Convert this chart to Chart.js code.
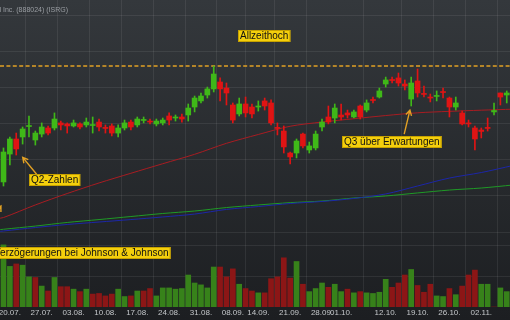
<!DOCTYPE html>
<html>
<head>
<meta charset="utf-8">
<script src="https://cdn.jsdelivr.net/npm/chart.js@4.4.0/dist/chart.umd.min.js"></script>
<style>
html, body { margin: 0; padding: 0; background: #26292d; }
canvas { display: block; }
</style>
</head>
<body>
<canvas id="isrg_chart" width="510" height="320" style="width:510px;height:320px"></canvas>
<script>
const title_text = 'Intuitive Surgical Inc. (888024) (ISRG)';

// daily candles, index 0 = 17.07.
const open_p = [684.6, 703.9, 714.3, 715.7, 722.9, 713.6, 717.7, 721.9, 721.9, 725.4,
    724.7, 723.3, 724.7, 724.0, 723.6, 726.0, 722.2, 723.3, 718.4, 721.9,
    726.0, 724.0, 727.1, 726.7, 724.7, 725.4, 730.2, 728.8, 729.5, 730.9,
    736.4, 740.6, 744.7, 748.9, 753.7, 749.5, 737.8, 731.6, 738.5, 736.4,
    736.4, 740.6, 739.2, 722.2, 719.8, 704.6, 704.6, 717.7, 706.7, 708.1,
    722.6, 729.5, 728.8, 730.9, 732.3, 729.5, 737.1, 734.3, 741.6, 743.3,
    752.3, 755.4, 756.5, 752.3, 741.9, 754.4, 745.7, 743.3, 743.7, 747.1,
    742.6, 736.4, 732.3, 725.4, 721.9, 720.5, 722.2, 733.0, 746.1, 744.7];
const high_p = [708.1, 715.7, 718.4, 722.6, 730.2, 719.8, 725.4, 723.3, 732.3, 726.7,
    725.4, 727.4, 725.4, 728.8, 729.5, 728.1, 724.0, 724.7, 724.0, 727.4,
    727.4, 729.5, 729.5, 728.1, 728.1, 728.8, 732.3, 730.9, 731.6, 738.5,
    744.0, 746.1, 750.2, 764.7, 756.5, 753.0, 739.2, 742.6, 743.3, 738.5,
    740.6, 742.6, 741.3, 725.4, 723.3, 705.3, 714.3, 718.4, 712.2, 719.8,
    728.1, 737.1, 738.5, 738.5, 734.3, 734.3, 737.8, 741.3, 743.3, 749.5,
    757.1, 757.1, 759.9, 755.1, 757.1, 762.7, 750.9, 745.4, 747.5, 749.5,
    743.3, 743.3, 733.6, 727.4, 723.3, 721.9, 728.8, 739.2, 746.1, 747.5];
const low_p = [681.8, 696.3, 703.2, 710.8, 715.7, 710.1, 715.7, 717.1, 720.5, 720.5,
    718.4, 722.6, 721.2, 722.6, 718.4, 719.8, 718.4, 716.4, 715.7, 720.5,
    720.5, 722.6, 725.4, 724.7, 723.3, 724.0, 724.0, 726.7, 726.0, 726.7,
    733.0, 739.2, 742.6, 746.8, 740.6, 737.8, 725.4, 730.2, 729.5, 728.8,
    733.6, 734.3, 724.0, 717.1, 704.6, 697.0, 701.2, 708.1, 704.6, 706.7,
    719.8, 724.7, 725.4, 727.4, 728.8, 728.8, 728.1, 733.0, 739.2, 742.6,
    750.2, 753.0, 750.9, 748.2, 737.1, 743.3, 743.3, 739.9, 740.6, 742.6,
    729.5, 734.3, 724.0, 722.6, 706.7, 715.0, 719.8, 730.9, 737.8, 739.2];
const close_p = [705.3, 714.3, 707.4, 721.2, 723.6, 718.4, 722.6, 718.4, 728.1, 724.0,
    723.3, 725.4, 722.6, 726.0, 724.3, 722.6, 721.6, 718.4, 721.9, 725.4,
    722.6, 728.1, 727.8, 726.0, 726.7, 727.4, 727.4, 729.5, 728.1, 735.7,
    742.6, 744.0, 748.9, 759.2, 748.9, 746.1, 727.4, 738.5, 732.3, 731.6,
    737.1, 737.1, 725.4, 721.6, 708.8, 701.9, 712.9, 709.5, 709.5, 717.7,
    726.0, 726.0, 735.7, 729.5, 730.9, 733.0, 729.5, 739.2, 740.9, 747.5,
    755.1, 754.7, 753.0, 750.9, 753.0, 746.1, 745.1, 742.6, 744.4, 746.4,
    736.4, 739.2, 724.7, 724.7, 714.3, 719.5, 721.6, 734.0, 743.3, 746.1];

// volume in million shares, 1 = up day, 0 = down day
const volume_m = [1.01, 0.66, 0.70, 0.68, 0.49, 0.48, 0.34, 0.26, 0.48, 0.33,
    0.33, 0.29, 0.25, 0.29, 0.21, 0.22, 0.18, 0.21, 0.29, 0.17,
    0.18, 0.26, 0.26, 0.30, 0.18, 0.31, 0.31, 0.29, 0.30, 0.52,
    0.39, 0.36, 0.31, 0.65, 0.65, 0.49, 0.62, 0.37, 0.30, 0.26,
    0.23, 0.23, 0.46, 0.49, 0.80, 0.47, 0.74, 0.37, 0.25, 0.30,
    0.39, 0.32, 0.37, 0.25, 0.29, 0.23, 0.25, 0.23, 0.22, 0.24,
    0.45, 0.32, 0.39, 0.52, 0.61, 0.35, 0.24, 0.37, 0.18, 0.17,
    0.30, 0.20, 0.34, 0.52, 0.60, 0.37, 0.37, 0, 0.31, 0.25];
const volume_up = [1, 1, 0, 1, 1, 0, 1, 0, 1, 0,
    0, 1, 0, 1, 0, 0, 0, 0, 1, 1,
    0, 1, 0, 0, 1, 1, 1, 1, 1, 1,
    1, 1, 1, 1, 0, 0, 0, 1, 0, 0,
    1, 0, 0, 0, 0, 0, 1, 0, 1, 1,
    1, 0, 1, 1, 0, 1, 0, 1, 1, 1,
    1, 0, 0, 0, 1, 0, 0, 0, 1, 1,
    0, 1, 0, 0, 0, 1, 1, 0, 1, 1];

// moving averages, read every 5 days
const ma_idx = [-1, 0, 5, 10, 15, 20, 25, 30, 35, 40, 45, 50, 55, 60, 65, 70, 75, 80];
const ma_red = [659.3, 660.0, 668.7, 676.6, 683.9, 690.6, 697.2, 703.7, 711.3, 717.4,
    723.1, 726.0, 728.3, 730.5, 732.4, 733.4, 734.2, 734.9];
const ma_blue = [650.3, 650.7, 653.1, 655.2, 656.9, 658.6, 660.4, 662.4, 665.6, 667.6,
    669.7, 671.1, 673.2, 676.3, 681.8, 687.3, 691.1, 696.0];
const ma_green = [651.4, 651.9, 654.1, 656.6, 658.6, 660.7, 662.8, 664.5, 666.9, 668.7,
    670.3, 671.4, 673.5, 674.9, 677.0, 679.0, 680.4, 682.5];

const tick_idx = [1, 6, 11, 16, 21, 26, 31, 36, 40, 45, 50, 53, 60, 65, 70, 75];
const tick_text = ['20.07.', '27.07.', '03.08.', '10.08.', '17.08.', '24.08.', '31.08.', '08.09.',
    '14.09.', '21.09.', '28.09.', '01.10.', '12.10.', '19.10.', '26.10.', '02.11.'];
const price_grid = [650, 675, 700, 725, 750, 775, 800];
const volume_grid = [0.5, 1.0];

const notes = [
    { text: 'Allzeithoch', i: 41, p: 785.5, align: 'center' },
    { text: 'Q2-Zahlen', i: 8, p: 685.9, align: 'center' },
    { text: 'Q3 über Erwartungen', i: 60.9, p: 712.5, align: 'center' },
    { text: 'Verzögerungen bei Johnson & Johnson', i: 26.3, p: 635.5, align: 'right' },
];
const arrows = [
    { from: [5.2, 689.9], to: [3.02, 701.6] },
    { from: [62.9, 717.7], to: [63.8, 734.3] },
    { from: [-3.7, 641.7], to: [-0.4, 668.0] },
];

const palette = {
    up: '#3fb818',
    down: '#e01414',
    vol_up: '#37821a',
    vol_down: '#8c1616',
    ma_red: '#a81c22',
    ma_blue: '#1c26a8',
    ma_green: '#1f9a26',
    grid: 'rgba(255, 255, 255, 0.075)',
    tick: '#c4c7ca',
    note_bg: '#f4cf0c',
    note_border: '#c7a200',
    arrow: '#e2a124',
    title: '#9a9ea3',
};

const font_family = '"Liberation Sans", Arial, sans-serif';
const ath_price = Math.max(...high_p);

function candle_color(i) {
    return close_p[i] >= open_p[i] ? palette.up : palette.down;
}

const background_plugin = {
    id: 'background_plugin',
    beforeDraw(chart) {
        const c = chart.ctx;
        const g = c.createLinearGradient(0, 0, 0, chart.height);
        g.addColorStop(0, '#34383c');
        g.addColorStop(1, '#1c1e21');
        c.save();
        c.fillStyle = g;
        c.fillRect(0, 0, chart.width, chart.height);
        c.restore();
    },
    beforeDatasetsDraw(chart) {
        const c = chart.ctx;
        const y = chart.scales.y.getPixelForValue(ath_price);
        c.save();
        c.strokeStyle = palette.arrow;
        c.lineWidth = 1.6;
        c.setLineDash([4, 2.4]);
        c.beginPath();
        c.moveTo(chart.chartArea.left, y);
        c.lineTo(chart.chartArea.right, y);
        c.stroke();
        c.restore();
    },
};

function draw_arrow(c, x0, y0, x1, y1) {
    const ang = Math.atan2(y1 - y0, x1 - x0);
    const head = 6;
    c.beginPath();
    c.moveTo(x0, y0);
    c.lineTo(x1, y1);
    c.moveTo(x1 - head * Math.cos(ang - 0.5), y1 - head * Math.sin(ang - 0.5));
    c.lineTo(x1, y1);
    c.lineTo(x1 - head * Math.cos(ang + 0.5), y1 - head * Math.sin(ang + 0.5));
    c.stroke();
}

const notes_plugin = {
    id: 'notes_plugin',
    afterDatasetsDraw(chart) {
        const c = chart.ctx;
        const xs = chart.scales.x;
        const ys = chart.scales.y;
        c.save();

        c.strokeStyle = palette.arrow;
        c.lineWidth = 1.4;
        arrows.forEach((a) => {
            draw_arrow(c,
                xs.getPixelForValue(a.from[0]), ys.getPixelForValue(a.from[1]),
                xs.getPixelForValue(a.to[0]), ys.getPixelForValue(a.to[1]));
        });

        c.font = '10px ' + font_family;
        c.textBaseline = 'middle';
        c.textAlign = 'left';
        notes.forEach((n) => {
            const w = c.measureText(n.text).width + 4;
            const h = 12;
            const cx = xs.getPixelForValue(n.i);
            const cy = Math.round(ys.getPixelForValue(n.p));
            const left = Math.round(n.align === 'right' ? cx - w : cx - w / 2);
            c.fillStyle = palette.note_bg;
            c.fillRect(left, cy - h / 2, w, h);
            c.strokeStyle = palette.note_border;
            c.lineWidth = 1;
            c.strokeRect(left + 0.5, cy - h / 2 + 0.5, w - 1, h - 1);
            c.fillStyle = '#111111';
            c.fillText(n.text, left + 2, cy + 0.5);
        });

        c.font = '7px ' + font_family;
        c.fillStyle = palette.title;
        c.textAlign = 'right';
        c.fillText(title_text, 68, 10);
        c.restore();
    },
};

const day_idx = open_p.map((v, i) => i);

const chart_data = {
    datasets: [
        {
            label: 'bodies',
            data: day_idx.map((i) => ({ x: i, y: [open_p[i], close_p[i]] })),
            yAxisID: 'y',
            backgroundColor: (ctx) => candle_color(ctx.dataIndex),
            barThickness: 5,
            minBarLength: 1,
            grouped: false,
            borderWidth: 0,
            order: 1,
        },
        {
            label: 'wicks',
            data: day_idx.map((i) => ({ x: i, y: [low_p[i], high_p[i]] })),
            yAxisID: 'y',
            backgroundColor: (ctx) => candle_color(ctx.dataIndex),
            barThickness: 1,
            grouped: false,
            borderWidth: 0,
            order: 2,
        },
        {
            type: 'line',
            label: 'MA red',
            data: ma_idx.map((x, k) => ({ x: x, y: ma_red[k] })),
            yAxisID: 'y',
            borderColor: palette.ma_red,
            borderWidth: 1,
            pointRadius: 0,
            tension: 0.3,
            order: 3,
        },
        {
            type: 'line',
            label: 'MA blue',
            data: ma_idx.map((x, k) => ({ x: x, y: ma_blue[k] })),
            yAxisID: 'y',
            borderColor: palette.ma_blue,
            borderWidth: 1,
            pointRadius: 0,
            tension: 0.3,
            order: 3,
        },
        {
            type: 'line',
            label: 'MA green',
            data: ma_idx.map((x, k) => ({ x: x, y: ma_green[k] })),
            yAxisID: 'y',
            borderColor: palette.ma_green,
            borderWidth: 1,
            pointRadius: 0,
            tension: 0.3,
            order: 3,
        },
        {
            label: 'volume',
            data: day_idx.map((i) => ({ x: i, y: volume_m[i] })),
            yAxisID: 'yv',
            backgroundColor: (ctx) => (volume_up[ctx.dataIndex] ? palette.vol_up : palette.vol_down),
            barThickness: 5,
            grouped: false,
            borderWidth: 0,
            order: 4,
        },
    ],
};

new Chart(document.getElementById('isrg_chart').getContext('2d'), {
    type: 'bar',
    data: chart_data,
    plugins: [background_plugin, notes_plugin],
    options: {
        responsive: false,
        animation: false,
        layout: { padding: 0 },
        plugins: {
            legend: { display: false },
            tooltip: { enabled: false },
        },
        scales: {
            x: {
                type: 'linear',
                min: -0.549,
                max: 79.51,
                offset: false,
                border: { display: false },
                grid: {
                    drawTicks: false,
                    color: (ctx) => (ctx.tick && ctx.tick.value === 53 ? 'rgba(0,0,0,0)' : palette.grid),
                },
                ticks: {
                    autoSkip: false,
                    maxRotation: 0,
                    padding: 1,
                    color: palette.tick,
                    font: { family: font_family, size: 8 },
                    callback: (v) => tick_text[tick_idx.indexOf(v)] || '',
                },
                afterBuildTicks: (s) => {
                    s.ticks = tick_idx.map((v) => ({ value: v }));
                },
                afterFit: (s) => {
                    s.height = 13;
                    s.paddingLeft = 0;
                    s.paddingRight = 0;
                },
            },
            y: {
                type: 'linear',
                position: 'left',
                min: 598.16,
                max: 810.37,
                border: { display: false },
                grid: { drawTicks: false, color: palette.grid },
                ticks: { display: false },
                afterBuildTicks: (s) => {
                    s.ticks = price_grid.map((v) => ({ value: v }));
                },
                afterFit: (s) => {
                    s.width = 0;
                },
            },
            yv: {
                type: 'linear',
                position: 'left',
                min: 0,
                max: 4.992,
                border: { display: false },
                grid: { drawTicks: false, color: palette.grid },
                ticks: { display: false },
                afterBuildTicks: (s) => {
                    s.ticks = volume_grid.map((v) => ({ value: v }));
                },
                afterFit: (s) => {
                    s.width = 0;
                },
            },
        },
    },
});
</script>
</body>
</html>
